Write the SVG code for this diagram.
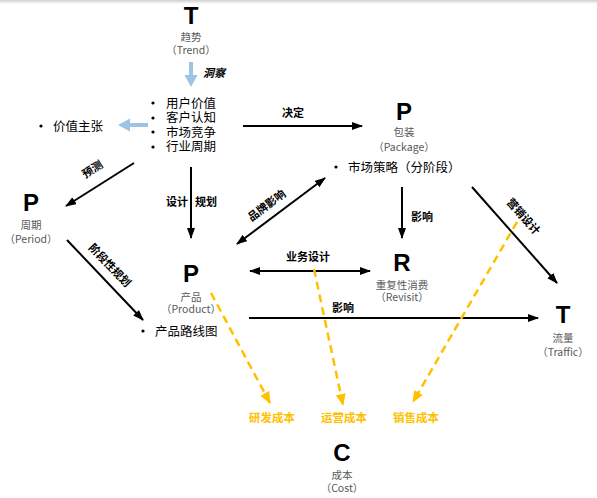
<svg xmlns="http://www.w3.org/2000/svg" width="597" height="498" viewBox="0 0 597 498">
<defs>
<linearGradient id="topg" x1="0" y1="0" x2="0" y2="1">
<stop offset="0" stop-color="#cfcfcf"/>
<stop offset="1" stop-color="#ffffff"/>
</linearGradient>
<marker id="ah" markerUnits="userSpaceOnUse" markerWidth="12" markerHeight="10" refX="10" refY="4" orient="auto-start-reverse">
<path d="M0,0 L11,4 L0,8 z" fill="#000"/>
</marker>
<marker id="ay" markerUnits="userSpaceOnUse" markerWidth="14" markerHeight="12" refX="11" refY="5" orient="auto">
<path d="M0,0 L12,5 L0,10 z" fill="#FFC000"/>
</marker>
</defs>
<style>
.big{font-family:"Liberation Sans",Arial,sans-serif;font-weight:bold;font-size:24px;fill:#000;text-anchor:middle}
.sub{font-family:"Noto Sans CJK SC","Noto Sans",sans-serif;font-size:10.5px;fill:#595959;text-anchor:middle}
.item{font-family:"Noto Sans CJK SC","Noto Sans",sans-serif;font-size:12.5px;fill:#000}
.lbl{font-family:"Noto Sans CJK SC","Noto Sans",sans-serif;font-size:11px;font-weight:bold;fill:#000;text-anchor:middle}
.ylbl{font-family:"Noto Sans CJK SC","Noto Sans",sans-serif;font-size:11.5px;font-weight:bold;fill:#FFC000;text-anchor:middle}
.ln{stroke:#000;stroke-width:2;fill:none}
.dash{stroke:#FFC000;stroke-width:2.5;stroke-dasharray:8,5;fill:none}
.dot{fill:#000}
</style>
<rect x="0" y="0" width="597" height="4" fill="url(#topg)"/>

<g id="trend">
<text class="big" x="191" y="24">T</text>
<text class="sub" x="191" y="41">趋势</text>
<text class="sub" x="191" y="54">（Trend）</text>
</g>

<g id="insights">
<circle class="dot" cx="153" cy="103" r="1.6"/>
<circle class="dot" cx="153" cy="118" r="1.6"/>
<circle class="dot" cx="153" cy="132" r="1.6"/>
<circle class="dot" cx="153" cy="147" r="1.6"/>
<text class="item" x="166" y="107.5">用户价值</text>
<text class="item" x="166" y="122">客户认知</text>
<text class="item" x="166" y="136.5">市场竞争</text>
<text class="item" x="166" y="151">行业周期</text>
</g>

<g id="value">
<circle class="dot" cx="41" cy="126" r="1.6"/>
<text class="item" x="53" y="130.5">价值主张</text>
</g>

<g id="package">
<text class="big" x="404" y="120">P</text>
<text class="sub" x="404" y="136">包装</text>
<text class="sub" x="404" y="151">（Package）</text>
<circle class="dot" cx="336" cy="167" r="1.6"/>
<text class="item" x="348" y="171.5">市场策略（分阶段）</text>
</g>

<g id="period">
<text class="big" x="31" y="211">P</text>
<text class="sub" x="31" y="229">周期</text>
<text class="sub" x="31" y="243">（Period）</text>
</g>

<g id="product">
<text class="big" x="191" y="282">P</text>
<text class="sub" x="191" y="301">产品</text>
<text class="sub" x="191" y="313">（Product）</text>
<circle class="dot" cx="143" cy="331" r="1.6"/>
<text class="item" x="155" y="335.5">产品路线图</text>
</g>

<g id="revisit">
<text class="big" x="402" y="271">R</text>
<text class="sub" x="402" y="289">重复性消费</text>
<text class="sub" x="402" y="301">（Revisit）</text>
</g>

<g id="traffic">
<text class="big" x="563" y="323">T</text>
<text class="sub" x="563" y="342">流量</text>
<text class="sub" x="563" y="356">（Traffic）</text>
</g>

<g id="cost">
<text class="big" x="342" y="461">C</text>
<text class="sub" x="342" y="479">成本</text>
<text class="sub" x="342" y="492">（Cost）</text>
</g>

<g id="costs">
<text class="ylbl" x="272" y="421.5">研发成本</text>
<text class="ylbl" x="344" y="421.5">运营成本</text>
<text class="ylbl" x="416" y="421.5">销售成本</text>
</g>

<g id="connectors">
<polygon points="189,62 193,62 193,75 197.5,75 191,87 184.5,75 189,75" fill="#9DC3E6"/>
<text class="lbl" x="214" y="77" font-style="italic">洞察</text>
<polygon points="148,123 148,127 130,127 130,131.5 118,125 130,118.5 130,123" fill="#9DC3E6"/>

<line class="ln" x1="243" y1="126" x2="362" y2="126" marker-end="url(#ah)"/>
<text class="lbl" x="293" y="117">决定</text>

<line class="ln" x1="134" y1="163" x2="66" y2="206" marker-end="url(#ah)"/>
<text class="lbl" transform="translate(94.5,172.5) rotate(-32.5)" x="0" y="0">预测</text>

<line class="ln" x1="191" y1="167" x2="191" y2="238" marker-end="url(#ah)"/>
<text class="lbl" x="177" y="206">设计</text>
<text class="lbl" x="206" y="206">规划</text>

<line class="ln" x1="67" y1="240" x2="143" y2="320" marker-end="url(#ah)"/>
<text class="lbl" transform="translate(107,268) rotate(46)" x="0" y="0">阶段性规划</text>

<line class="ln" x1="325" y1="178" x2="237" y2="244" marker-start="url(#ah)" marker-end="url(#ah)"/>
<text class="lbl" transform="translate(269,208.5) rotate(-37)" x="0" y="0">品牌影响</text>

<line class="ln" x1="402" y1="187" x2="402" y2="238" marker-end="url(#ah)"/>
<text class="lbl" x="422" y="221">影响</text>

<line class="ln" x1="250" y1="271" x2="370" y2="271" marker-start="url(#ah)" marker-end="url(#ah)"/>
<text class="lbl" x="308" y="261">业务设计</text>

<line class="ln" x1="249" y1="318" x2="538" y2="318" marker-end="url(#ah)"/>
<text class="lbl" x="343" y="312">影响</text>

<line class="ln" x1="472" y1="187" x2="557" y2="283" marker-end="url(#ah)"/>
<text class="lbl" transform="translate(520.5,219) rotate(48.5)" x="0" y="0">营销设计</text>

<line class="dash" x1="211" y1="293" x2="270" y2="403" marker-end="url(#ay)"/>
<line class="dash" x1="314" y1="269" x2="343" y2="405" marker-end="url(#ay)"/>
<line class="dash" x1="517" y1="222" x2="413" y2="402" marker-end="url(#ay)"/>
</g>
</svg>
